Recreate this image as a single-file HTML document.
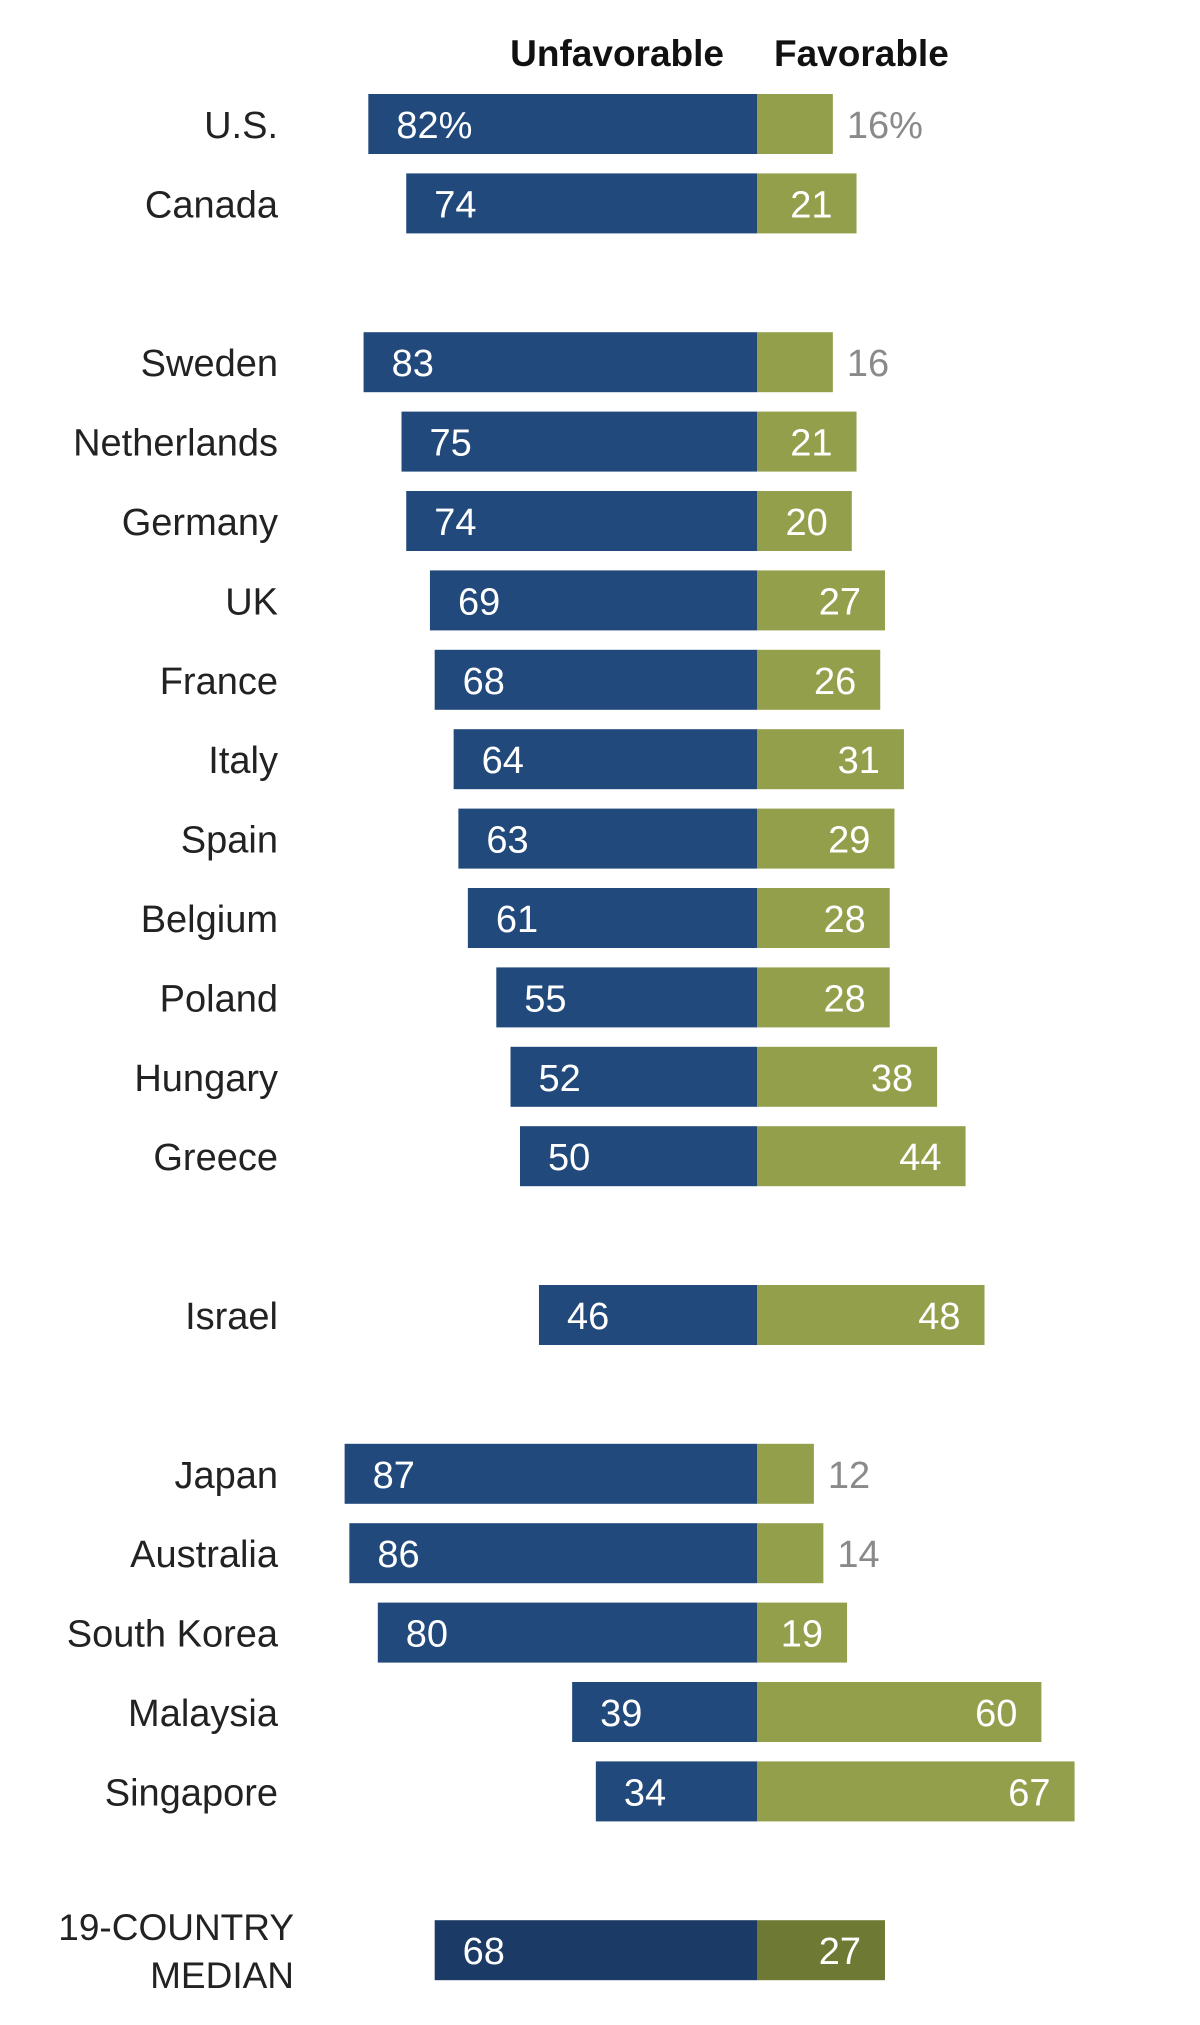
<!DOCTYPE html>
<html><head><meta charset="utf-8"><style>
html,body{margin:0;padding:0;background:#fff;}
svg{display:block;font-family:"Liberation Sans",Arial,sans-serif;}
</style></head><body>
<svg id="chart" width="1200" height="2025" viewBox="0 0 1200 2025" xmlns="http://www.w3.org/2000/svg">
<text x="724" y="66" text-anchor="end" font-size="37" font-weight="bold" fill="#111">Unfavorable</text>
<text x="774" y="66" font-size="37" font-weight="bold" fill="#111">Favorable</text>
<g id="rows"></g>
</svg>
<script>
const countries = ["U.S.","Canada","Sweden","Netherlands","Germany","UK","France","Italy","Spain","Belgium","Poland","Hungary","Greece","Israel","Japan","Australia","South Korea","Malaysia","Singapore","19-COUNTRY MEDIAN"];
const rowSlots = [0,1,3,4,5,6,7,8,9,10,11,12,13,15,17,18,19,20,21,23];
const unfavorable = [82,74,83,75,74,69,68,64,63,61,55,52,50,46,87,86,80,39,34,68];
const favorable = [16,21,16,21,20,27,26,31,29,28,28,38,44,48,12,14,19,60,67,27];

const NS = "http://www.w3.org/2000/svg";
const CX = 757, UNIT = 4.74, Y0 = 124, PITCH = 79.4, BH = 60;
const xPos = v => CX + v * UNIT;
const xNeg = v => CX - v * UNIT;
const yRow = s => Y0 + s * PITCH;
const g = document.getElementById('rows');
function mk(tag, attrs){const e=document.createElementNS(NS,tag);for(const k in attrs)e.setAttribute(k,attrs[k]);return e;}

countries.forEach((c,i)=>{
  const yc = yRow(rowSlots[i]);
  const isMed = i === countries.length-1;
  const blue = isMed ? "#1b3a66" : "#22497c";
  const green = isMed ? "#6e7a34" : "#939f4b";
  const u = unfavorable[i], f = favorable[i];
  const suffix = i===0 ? "%" : "";
  if(isMed){
    const parts = c.split(" ");
    const t1 = mk('text',{x:294,y:yc-10,'text-anchor':'end','font-size':37,fill:'#222'});
    t1.textContent = parts[0];
    
    
    g.appendChild(t1);
    const t2 = mk('text',{x:294,y:yc+38,'text-anchor':'end','font-size':37,fill:'#222'});
    t2.textContent = parts[1];
    
    
    g.appendChild(t2);
  } else {
    const t = mk('text',{x:278,y:yc+14,'text-anchor':'end','font-size':38,fill:'#222'});
    t.textContent = c;
    
    
    g.appendChild(t);
  }
  const rb = mk('rect',{x:xNeg(u),y:yc-BH/2,width:CX-xNeg(u),height:BH,fill:blue});
  
  
  g.appendChild(rb);
  const rg = mk('rect',{x:CX,y:yc-BH/2,width:xPos(f)-CX,height:BH,fill:green});
  
  
  g.appendChild(rg);
  const lu = mk('text',{x:xNeg(u)+28,y:yc+14,'font-size':38,fill:'#fff'});
  lu.textContent = u + suffix;
  
  
  g.appendChild(lu);
  let lf;
  if(f < 18){
    lf = mk('text',{x:xPos(f)+14,y:yc+14,'font-size':38,fill:'#8a8a8a'});
  } else {
    lf = mk('text',{x:xPos(f)-24,y:yc+14,'text-anchor':'end','font-size':38,fill:'#fff'});
  }
  lf.textContent = f + suffix;
  
  
  g.appendChild(lf);
});
</script>
</body></html>
